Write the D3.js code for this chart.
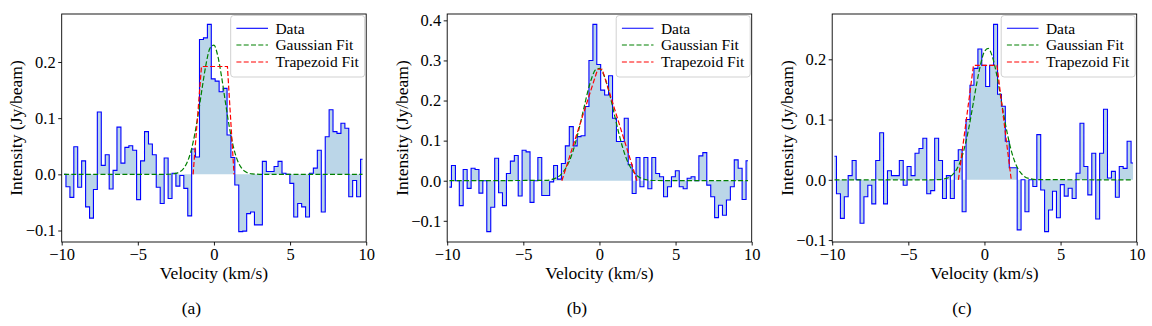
<!DOCTYPE html>
<html>
<head>
<meta charset="utf-8">
<script src="https://cdn.jsdelivr.net/npm/d3@7"></script>
<style>
    body { margin: 0; background: #fff; }
    svg text { font-family: "Liberation Serif", "Times New Roman", serif; fill: #000; }
</style>
</head>
<body>
<div id="chart"></div>
<script>
// channel velocities (km/s), same grid for all three spectra
const velocity = [
    -9.85, -9.59, -9.33, -9.08, -8.82, -8.56, -8.30, -8.04, -7.79, -7.53,
    -7.27, -7.01, -6.75, -6.50, -6.24, -5.98, -5.72, -5.46, -5.21, -4.95,
    -4.69, -4.43, -4.17, -3.92, -3.66, -3.40, -3.14, -2.88, -2.63, -2.37,
    -2.11, -1.85, -1.59, -1.34, -1.08, -0.82, -0.56, -0.30, -0.05, 0.21,
    0.47, 0.73, 0.99, 1.24, 1.50, 1.76, 2.02, 2.28, 2.53, 2.79,
    3.05, 3.31, 3.57, 3.82, 4.08, 4.34, 4.60, 4.86, 5.11, 5.37,
    5.63, 5.89, 6.15, 6.40, 6.66, 6.92, 7.18, 7.44, 7.69, 7.95,
    8.21, 8.47, 8.73, 8.98, 9.24, 9.50, 9.76
];

// intensity (Jy/beam) per channel
const intensityA = [
    0.000, -0.022, -0.041, 0.049, -0.023, 0.024, -0.058, -0.078, -0.027, 0.111,
    0.016, 0.035, -0.026, 0.007, 0.084, 0.020, 0.048, 0.051, 0.043, -0.045,
    0.024, 0.076, 0.054, 0.035, -0.023, -0.052, 0.029, -0.043, 0.002, -0.021,
    -0.002, -0.025, -0.074, 0.045, 0.031, 0.240, 0.243, 0.267, 0.170, 0.166,
    0.147, 0.153, 0.070, 0.030, -0.019, -0.102, -0.101, -0.070, -0.067, -0.090,
    -0.090, 0.023, 0.005, 0.005, 0.014, 0.023, 0.002, 0.000, -0.016, -0.076,
    -0.052, -0.058, -0.076, 0.002, 0.011, 0.043, -0.067, 0.067, 0.115, 0.076,
    0.073, 0.091, 0.082, -0.040, -0.011, -0.040, 0.027
];
const intensityB = [
    -0.016, 0.038, 0.000, -0.062, 0.028, -0.019, 0.031, 0.028, -0.031, 0.000,
    -0.127, -0.066, 0.056, -0.030, -0.062, 0.018, 0.049, 0.063, -0.038, 0.076,
    0.072, -0.054, 0.000, 0.058, -0.037, -0.037, -0.003, 0.038, 0.004, 0.043,
    0.087, 0.135, 0.087, 0.110, 0.112, 0.185, 0.300, 0.390, 0.290, 0.226,
    0.214, 0.262, 0.156, 0.098, 0.098, 0.156, 0.040, -0.032, 0.058, -0.015,
    0.058, -0.020, 0.058, 0.018, 0.010, -0.040, -0.015, 0.010, 0.025, -0.015,
    -0.020, 0.006, 0.010, 0.000, 0.062, 0.070, -0.011, -0.040, -0.092, -0.061,
    -0.086, -0.048, -0.015, 0.052, 0.031, -0.047, 0.050
];
const intensityC = [
    0.039, -0.023, -0.064, -0.028, 0.007, 0.032, 0.000, -0.072, -0.028, -0.009,
    -0.040, 0.032, 0.078, -0.040, 0.015, 0.007, 0.007, 0.032, -0.009, 0.022,
    0.007, 0.044, 0.052, 0.069, -0.023, -0.018, 0.069, 0.032, -0.031, 0.007,
    -0.031, 0.032, 0.050, -0.053, 0.100, 0.157, 0.185, 0.217, 0.190, 0.155,
    0.190, 0.258, 0.142, 0.122, 0.064, 0.020, 0.020, -0.083, 0.000, -0.053,
    0.000, -0.011, 0.075, -0.017, -0.086, -0.050, -0.019, -0.063, -0.008, -0.027,
    -0.014, -0.031, 0.011, 0.094, 0.022, -0.025, 0.044, -0.065, 0.044, 0.117,
    0.003, 0.014, -0.029, 0.022, 0.019, 0.064, 0.028
];

const fitVelocity = [-9.85, -3.5, -3, -2.5, -2, -1.75, -1.5, -1.25, -1, -0.75, -0.5, -0.25, 0,
    0.25, 0.5, 0.75, 1, 1.25, 1.5, 1.75, 2, 2.5, 3, 3.5, 9.76];
const gaussA = [0, 0, 0.0002, 0.0017, 0.0103, 0.022, 0.042, 0.073, 0.113, 0.158, 0.199, 0.225, 0.230,
    0.211, 0.174, 0.129, 0.086, 0.052, 0.028, 0.0137, 0.006, 0.0008, 0.0001, 0, 0];
const gaussB = [0, 0.001, 0.0045, 0.0165, 0.047, 0.0724, 0.105, 0.144, 0.185, 0.225, 0.257, 0.277, 0.280,
    0.267, 0.240, 0.203, 0.162, 0.122, 0.086, 0.057, 0.036, 0.0118, 0.003, 0.0006, 0];
const gaussC = [0, 0, 0.0004, 0.0024, 0.011, 0.0208, 0.0366, 0.0595, 0.0896, 0.125, 0.161, 0.192, 0.213,
    0.218, 0.206, 0.181, 0.147, 0.110, 0.077, 0.0495, 0.0295, 0.0083, 0.0017, 0.0003, 0];

// trapezoid fit corners
const trapVelocityA = [-1.37, -0.82, 0.885, 1.32];
const trapIntensityA = [0, 0.192, 0.192, 0];
const trapVelocityB = [-2.47, -0.12, 0.18, 2.46];
const trapIntensityB = [0, 0.278, 0.278, 0];
const trapVelocityC = [-1.71, -0.72, 0.82, 1.76];
const trapIntensityC = [0, 0.19, 0.19, 0];

// ticks and labels
const xTicks = [-10, -5, 0, 5, 10];
const yTicksA = [-0.1, 0.0, 0.1, 0.2];
const yTicksB = [-0.1, 0.0, 0.1, 0.2, 0.3, 0.4];
const yTicksC = [-0.1, 0.0, 0.1, 0.2];
const panelTags = ["(a)", "(b)", "(c)"];
const legendLabels = ["Data", "Gaussian Fit", "Trapezoid Fit"];

const serif = '"Liberation Serif", "Times New Roman", serif';


class SpectrumPanel {

    constructor(_svg, _left, _tag, _intensity, _gauss, _trapV, _trapI, _yTicks) {
        this.svg = _svg;
        this.left = _left;
        this.tag = _tag;
        this.intensity = _intensity;
        this.gauss = _gauss;
        this.trapV = _trapV;
        this.trapI = _trapI;
        this.yTicks = _yTicks;

        this.initVis();
    }

    initVis() {
        let vis = this;

        vis.top = 14;
        vis.width = 304.5;
        vis.height = 228;

        vis.g = vis.svg.append("g")
            .attr("transform", "translate(" + vis.left + "," + vis.top + ")");

        vis.xScale = d3.scaleLinear()
            .domain([-10, 10])
            .range([0, vis.width]);

        // matplotlib style auto limits: data range plus 5% each side
        let lo = d3.min(vis.intensity), hi = d3.max(vis.intensity);
        let pad = (hi - lo) * 0.05;
        vis.yScale = d3.scaleLinear()
            .domain([lo - pad, hi + pad])
            .range([vis.height, 0]);

        vis.updateVis();
    }

    updateVis() {
        let vis = this;
        let x = vis.xScale, y = vis.yScale;

        let spec = velocity.map((v, i) => ({ v: v, y: vis.intensity[i] }));
        let gfit = fitVelocity.map((v, i) => ({ v: v, y: vis.gauss[i] }));
        let tfit = vis.trapV.map((v, i) => ({ v: v, y: vis.trapI[i] }));

        // shaded area between the spectrum and zero
        vis.g.append("path")
            .datum(spec)
            .attr("fill", "#1f77b4")
            .attr("fill-opacity", 0.3)
            .attr("d", d3.area().curve(d3.curveStep)
                .x(d => x(d.v)).y0(y(0)).y1(d => y(d.y)));

        // step line of the data
        vis.g.append("path")
            .datum(spec)
            .attr("fill", "none")
            .attr("stroke", "#0000ff")
            .attr("stroke-width", 1.1)
            .attr("d", d3.line().curve(d3.curveStep).x(d => x(d.v)).y(d => y(d.y)));

        vis.g.append("path")
            .datum(gfit)
            .attr("fill", "none")
            .attr("stroke", "#008000")
            .attr("stroke-width", 1.2)
            .attr("stroke-dasharray", "5,2.3")
            .attr("d", d3.line().curve(d3.curveMonotoneX).x(d => x(d.v)).y(d => y(d.y)));

        vis.g.append("path")
            .datum(tfit)
            .attr("fill", "none")
            .attr("stroke", "#ff0000")
            .attr("stroke-width", 1.2)
            .attr("stroke-dasharray", "5,2.3")
            .attr("d", d3.line().x(d => x(d.v)).y(d => y(d.y)));

        // axes
        let xAxis = vis.g.append("g")
            .attr("transform", "translate(0," + vis.height + ")")
            .call(d3.axisBottom(x).tickValues(xTicks).tickFormat(d3.format("d"))
                .tickSize(3.5).tickPadding(2.5));
        let yAxis = vis.g.append("g")
            .call(d3.axisLeft(y).tickValues(vis.yTicks).tickFormat(d3.format(".1f"))
                .tickSize(3.5).tickPadding(2.5));

        [xAxis, yAxis].forEach(ax => {
            ax.attr("font-family", serif).attr("font-size", 16.5);
            ax.select(".domain").remove();
            ax.selectAll("line").attr("stroke", "#000").attr("stroke-width", 0.9);
            ax.selectAll("text")
                .style("font-family", serif)
                .style("font-size", "16.5px");
        });

        // frame on all four sides
        vis.g.append("rect")
            .attr("width", vis.width)
            .attr("height", vis.height)
            .attr("fill", "none")
            .attr("stroke", "#000")
            .attr("stroke-width", 0.9);

        vis.g.append("text")
            .attr("x", vis.width / 2)
            .attr("y", 265)
            .attr("text-anchor", "middle")
            .style("font-size", "17.5px")
            .text("Velocity (km/s)");

        vis.g.append("text")
            .attr("transform", "translate(-45.5," + vis.height / 2 + ") rotate(-90)")
            .attr("text-anchor", "middle")
            .attr("dominant-baseline", "central")
            .style("font-size", "17.5px")
            .text("Intensity (Jy/beam)");

        vis.g.append("text")
            .attr("x", vis.width / 2 - 22.5)
            .attr("y", 300)
            .attr("text-anchor", "middle")
            .style("font-size", "17.5px")
            .text(vis.tag);

        vis.drawLegend();
    }

    drawLegend() {
        let vis = this;

        let lg = vis.g.append("g")
            .attr("transform", "translate(" + (vis.width - 135.5) + ",1.5)");

        lg.append("rect")
            .attr("width", 134)
            .attr("height", 61.5)
            .attr("rx", 3)
            .attr("fill", "#fff")
            .attr("fill-opacity", 0.8)
            .attr("stroke", "#cccccc")
            .attr("stroke-width", 0.9);

        let colors = ["#0000ff", "#008000", "#ff0000"];
        let rowY = [12.8, 29.5, 46.5];

        legendLabels.forEach((label, i) => {
            lg.append("line")
                .attr("x1", 5.7).attr("x2", 37.3)
                .attr("y1", rowY[i]).attr("y2", rowY[i])
                .attr("stroke", colors[i])
                .attr("stroke-width", i === 0 ? 1.1 : 1.2)
                .attr("stroke-dasharray", i === 0 ? null : "5,2.3");
            lg.append("text")
                .attr("x", 44.7)
                .attr("y", rowY[i])
                .attr("dy", "0.35em")
                .style("font-size", "15.5px")
                .text(label);
        });
    }
}


let svg = d3.select("#chart").append("svg")
    .attr("width", 1152)
    .attr("height", 326)
    .style("display", "block")
    .style("background", "#fff");

new SpectrumPanel(svg, 61.7, panelTags[0], intensityA, gaussA, trapVelocityA, trapIntensityA, yTicksA);
new SpectrumPanel(svg, 447.2, panelTags[1], intensityB, gaussB, trapVelocityB, trapIntensityB, yTicksB);
new SpectrumPanel(svg, 832.2, panelTags[2], intensityC, gaussC, trapVelocityC, trapIntensityC, yTicksC);
</script>
</body>
</html>
